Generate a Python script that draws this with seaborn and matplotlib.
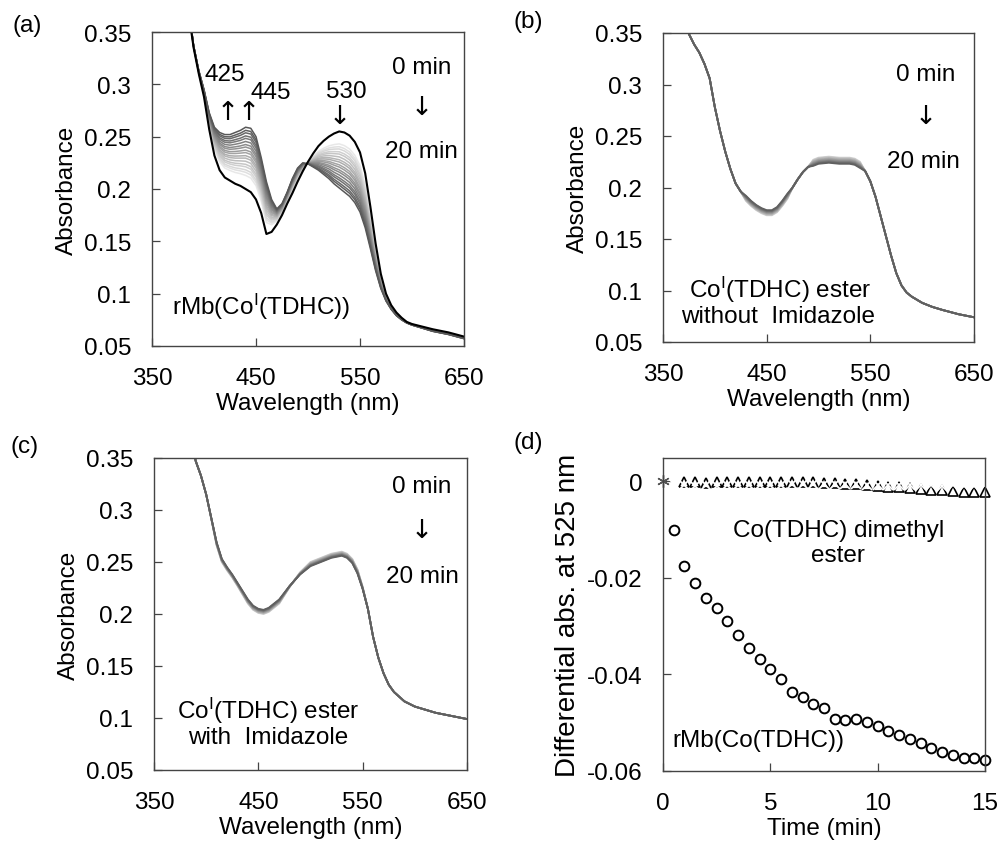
import numpy as np
import pandas as pd
import matplotlib
matplotlib.use("Agg")
import matplotlib.pyplot as plt
import seaborn as sns

sns.set_theme(style="white")
plt.rcParams['font.family'] = ['Liberation Sans', 'DejaVu Sans']
plt.rcParams['mathtext.fontset'] = 'custom'
plt.rcParams['mathtext.rm'] = 'Liberation Sans'
plt.rcParams['mathtext.it'] = 'Liberation Sans:italic'
plt.rcParams['mathtext.bf'] = 'Liberation Sans:bold'
for k in ['text.color', 'axes.labelcolor', 'xtick.color', 'ytick.color']:
    plt.rcParams[k] = 'black'

FS = 17.5
ARROW_FONT = dict(family=['DejaVu Sans'], fontsize=19)

# ---------------- data: panel (a) rMb(CoI(TDHC)) ----------------
wl_a = [360, 370, 380, 385, 390, 395, 400, 405, 410, 415,
        420, 425, 430, 435, 440, 445, 450, 455, 460, 465,
        470, 475, 480, 485, 490, 495, 500, 505, 510, 515,
        520, 525, 530, 535, 540, 545, 550, 555, 560, 565,
        570, 575, 580, 585, 590, 595, 600, 620, 635, 650]
abs_a_0min = [0.52, 0.46, 0.40, 0.37, 0.335, 0.31, 0.288, 0.257, 0.232, 0.218,
              0.211, 0.208, 0.205, 0.203, 0.200, 0.197, 0.190, 0.177, 0.157, 0.159,
              0.166, 0.175, 0.186, 0.196, 0.207, 0.217, 0.226, 0.234, 0.241, 0.246,
              0.250, 0.253, 0.255, 0.254, 0.251, 0.245, 0.235, 0.215, 0.183, 0.148,
              0.119, 0.100, 0.089, 0.082, 0.077, 0.073, 0.071, 0.066, 0.063, 0.059]
abs_a_20min = [0.52, 0.46, 0.40, 0.375, 0.337, 0.313, 0.295, 0.273, 0.259, 0.254,
               0.252, 0.252, 0.254, 0.256, 0.259, 0.258, 0.250, 0.230, 0.207, 0.190,
               0.181, 0.186, 0.197, 0.210, 0.220, 0.225, 0.224, 0.221, 0.218, 0.214,
               0.210, 0.205, 0.201, 0.197, 0.193, 0.187, 0.178, 0.163, 0.143, 0.122,
               0.105, 0.093, 0.085, 0.079, 0.075, 0.072, 0.070, 0.064, 0.061, 0.057]
# relative position of each later trace between the 0 min and 20 min spectra
progress_a = [0.22, 0.27, 0.31, 0.36, 0.40, 0.45, 0.50, 0.54, 0.59, 0.63, 0.68, 0.72,
              0.77, 0.82, 0.86, 0.91, 0.95, 1.0]

# ---------------- data: panel (b) ester without imidazole ----------------
wl_b = [350, 360, 370, 375, 380, 385, 390, 395, 400, 405,
        410, 415, 420, 425, 430, 435, 440, 445, 450, 455,
        460, 465, 470, 475, 480, 485, 490, 495, 500, 510,
        520, 530, 535, 540, 545, 550, 555, 560, 565, 570,
        575, 580, 585, 590, 600, 610, 620, 635, 650]
abs_b_0min = [0.55, 0.45, 0.37, 0.349, 0.339, 0.331, 0.320, 0.306, 0.278, 0.255,
              0.235, 0.218, 0.204, 0.196, 0.187, 0.182, 0.178, 0.175, 0.173, 0.173,
              0.176, 0.182, 0.189, 0.200, 0.208, 0.215, 0.220, 0.227, 0.229, 0.230,
              0.229, 0.229, 0.228, 0.225, 0.216, 0.206, 0.191, 0.172, 0.153, 0.134,
              0.117, 0.105, 0.098, 0.094, 0.088, 0.084, 0.081, 0.077, 0.074]
abs_b_20min = [0.55, 0.45, 0.37, 0.349, 0.339, 0.331, 0.320, 0.306, 0.278, 0.255,
               0.235, 0.218, 0.204, 0.196, 0.192, 0.187, 0.183, 0.180, 0.178, 0.178,
               0.181, 0.187, 0.194, 0.200, 0.208, 0.215, 0.220, 0.221, 0.223, 0.224,
               0.223, 0.223, 0.222, 0.219, 0.216, 0.206, 0.191, 0.172, 0.153, 0.134,
               0.117, 0.105, 0.098, 0.094, 0.088, 0.084, 0.081, 0.077, 0.074]
progress_b = [0.0, 0.11, 0.22, 0.33, 0.44, 0.56, 0.67, 0.78, 0.89, 1.0]

# ---------------- data: panel (c) ester with imidazole ----------------
wl_c = [350, 360, 370, 380, 385, 390, 395, 400, 405, 410, 415, 420, 425, 430, 440, 445,
        450, 455, 460, 470, 480, 490, 500, 510, 520, 530, 535, 540, 545, 550, 555, 560,
        565, 570, 575, 580, 590, 600, 620, 640, 650]
abs_c_0min = [0.60, 0.52, 0.45, 0.395, 0.37, 0.347, 0.333, 0.315, 0.291, 0.266, 0.250,
              0.242, 0.235, 0.227, 0.210, 0.204, 0.201, 0.200, 0.202, 0.210, 0.226, 0.240,
              0.250, 0.254, 0.258, 0.260, 0.258, 0.253, 0.243, 0.226, 0.205, 0.178, 0.158,
              0.143, 0.132, 0.125, 0.116, 0.111, 0.105, 0.101, 0.099]
abs_c_20min = [0.60, 0.52, 0.45, 0.395, 0.37, 0.347, 0.333, 0.315, 0.292, 0.269, 0.253,
               0.245, 0.238, 0.230, 0.214, 0.208, 0.205, 0.204, 0.206, 0.214, 0.227, 0.238,
               0.246, 0.250, 0.254, 0.256, 0.254, 0.249, 0.239, 0.224, 0.205, 0.178, 0.158,
               0.143, 0.132, 0.125, 0.116, 0.111, 0.105, 0.101, 0.099]
progress_c = [0.0, 0.11, 0.22, 0.33, 0.44, 0.56, 0.67, 0.78, 0.89, 1.0]

# ---------------- data: panel (d) kinetics at 525 nm ----------------
t_rmb = [0.5, 1.0, 1.5, 2.0, 2.5, 3.0, 3.5, 4.0, 4.5, 5.0, 5.5, 6.0, 6.5, 7.0, 7.5,
         8.0, 8.5, 9.0, 9.5, 10.0, 10.5, 11.0, 11.5, 12.0, 12.5, 13.0, 13.5, 14.0, 14.5, 15.0]
d_rmb = [-0.0101, -0.0175, -0.0210, -0.0241, -0.0263, -0.0290, -0.0319, -0.0345, -0.0369,
         -0.0388, -0.0409, -0.0437, -0.0447, -0.0461, -0.0470, -0.0493, -0.0495, -0.0493,
         -0.0499, -0.0507, -0.0518, -0.0526, -0.0534, -0.0543, -0.0552, -0.0561, -0.0567,
         -0.0574, -0.0573, -0.0578]
t_tri = [1.0, 1.5, 2.0, 2.5, 3.0, 3.5, 4.0, 4.5, 5.0, 5.5, 6.0, 6.5, 7.0, 7.5, 8.0,
         8.5, 9.0, 9.5, 10.0, 10.5, 11.0, 11.5, 12.0, 12.5, 13.0, 13.5, 14.0, 14.5, 15.0]
d_tri = [-0.0002, -0.0002, -0.0003, -0.0002, -0.0002, -0.0002, -0.0002, -0.0002, -0.0002,
         -0.0002, -0.0002, -0.0002, -0.0002, -0.0003, -0.0003, -0.0005, -0.0006, -0.0008,
         -0.0010, -0.0012, -0.0013, -0.0015, -0.0016, -0.0018, -0.0019, -0.0020, -0.0022,
         -0.0022, -0.0023]
t_x = t_rmb
d_x = [-0.0006, -0.0008, -0.0009, -0.0008, -0.0009, -0.0008, -0.0008, -0.0007, -0.0008,
       -0.0007, -0.0007, -0.0006, -0.0006, -0.0006, -0.0005, -0.0005, -0.0006, -0.0006,
       -0.0007, -0.0007, -0.0008, -0.0007, -0.0008, -0.0007, -0.0008, -0.0009, -0.0008,
       -0.0009, -0.0010, -0.0008]
t_star = [0.0]
d_star = [0.0]

wl_ticks = [350, 450, 550, 650]
abs_ticks = [0.05, 0.10, 0.15, 0.20, 0.25, 0.30, 0.35]
abs_ticklabels = ['0.05', '0.1', '0.15', '0.2', '0.25', '0.3', '0.35']
t_ticks = [0, 5, 10, 15]
d_ticks = [0.0, -0.02, -0.04, -0.06]
d_ticklabels = ['0', '-0.02', '-0.04', '-0.06']


def traces_frame(wl, first, last, progress):
    wl = np.asarray(wl, float)
    first = np.asarray(first, float)
    last = np.asarray(last, float)
    parts = []
    for i, p in enumerate(progress):
        parts.append(pd.DataFrame({'wl': wl, 'A': first + p * (last - first),
                                   'trace': f't{i:02d}'}))
    return pd.concat(parts, ignore_index=True)


def style(ax, xlim, ylim, xticks, xticklabels, yticks, yticklabels, xlabel, ylabel,
          ylabel_size=FS):
    ax.set_xlim(*xlim)
    ax.set_ylim(*ylim)
    ax.set_xticks(xticks)
    ax.set_xticklabels(xticklabels)
    ax.set_yticks(yticks)
    ax.set_yticklabels(yticklabels)
    ax.tick_params(direction='in', length=6, width=0.9, color='#444444',
                   labelcolor='black', labelsize=FS, pad=15,
                   bottom=True, left=True, top=False, right=False)
    for s in ax.spines.values():
        s.set_visible(True)
        s.set_color('#444444')
        s.set_linewidth(1.0)
    ax.set_xlabel(xlabel, fontsize=FS, labelpad=2)
    ax.set_ylabel(ylabel, fontsize=ylabel_size, labelpad=4)
    ax.grid(False)


W, H = 1001, 845
fig = plt.figure(figsize=(W / 100, H / 100), dpi=100)


def add_axes_px(left, top, right, bottom):
    return fig.add_axes([left / W, 1 - bottom / H, (right - left) / W, (bottom - top) / H])


ax_a = add_axes_px(152, 33, 464, 347)
ax_b = add_axes_px(663, 34, 974, 343)
ax_c = add_axes_px(154, 459, 467, 771)
ax_d = add_axes_px(663, 459, 985, 772)

# ---- (a)
df_a = traces_frame(wl_a, abs_a_0min, abs_a_20min, progress_a)
pal_a = sns.blend_palette(['#e8e8e8', '#585858'], len(progress_a))
sns.lineplot(data=df_a, x='wl', y='A', hue='trace', palette=pal_a, legend=False,
             estimator=None, sort=False, lw=1.1, ax=ax_a)
sns.lineplot(x=wl_a, y=abs_a_0min, color='black', lw=1.5, ax=ax_a)
style(ax_a, (350, 650), (0.05, 0.35), wl_ticks, [str(v) for v in wl_ticks],
      abs_ticks, abs_ticklabels, 'Wavelength (nm)', 'Absorbance')
ax_a.text(420, 0.310, '425', ha='center', va='center', fontsize=FS)
ax_a.text(464, 0.293, '445', ha='center', va='center', fontsize=FS)
ax_a.text(423, 0.274, '\u2191', ha='center', va='center', **ARROW_FONT)
ax_a.text(443, 0.274, '\u2191', ha='center', va='center', **ARROW_FONT)
ax_a.text(537, 0.294, '530', ha='center', va='center', fontsize=FS)
ax_a.text(530, 0.270, '\u2193', ha='center', va='center', **ARROW_FONT)
ax_a.text(609, 0.317, '0 min', ha='center', va='center', fontsize=FS)
ax_a.text(609, 0.278, '\u2193', ha='center', va='center', **ARROW_FONT)
ax_a.text(609, 0.236, '20 min', ha='center', va='center', fontsize=FS)
ax_a.text(369, 0.088, r'rMb(Co$^{\rm I}$(TDHC))', ha='left', va='center', fontsize=FS)

# ---- (b)
df_b = traces_frame(wl_b, abs_b_0min, abs_b_20min, progress_b)
pal_b = sns.blend_palette(['#d0d0d0', '#606060'], len(progress_b))
sns.lineplot(data=df_b, x='wl', y='A', hue='trace', palette=pal_b, legend=False,
             estimator=None, sort=False, lw=1.3, ax=ax_b)
style(ax_b, (350, 650), (0.05, 0.35), wl_ticks, [str(v) for v in wl_ticks],
      abs_ticks, abs_ticklabels, 'Wavelength (nm)', 'Absorbance')
ax_b.text(603, 0.310, '0 min', ha='center', va='center', fontsize=FS)
ax_b.text(603, 0.269, '\u2193', ha='center', va='center', **ARROW_FONT)
ax_b.text(601, 0.226, '20 min', ha='center', va='center', fontsize=FS)
ax_b.text(463, 0.1015, r'Co$^{\rm I}$(TDHC) ester', ha='center', va='center', fontsize=FS)
ax_b.text(461, 0.075, 'without  Imidazole', ha='center', va='center', fontsize=FS)

# ---- (c)
df_c = traces_frame(wl_c, abs_c_0min, abs_c_20min, progress_c)
pal_c = sns.blend_palette(['#d0d0d0', '#606060'], len(progress_c))
sns.lineplot(data=df_c, x='wl', y='A', hue='trace', palette=pal_c, legend=False,
             estimator=None, sort=False, lw=1.3, ax=ax_c)
style(ax_c, (350, 650), (0.05, 0.35), wl_ticks, [str(v) for v in wl_ticks],
      abs_ticks, abs_ticklabels, 'Wavelength (nm)', 'Absorbance')
ax_c.text(607, 0.323, '0 min', ha='center', va='center', fontsize=FS)
ax_c.text(607, 0.281, '\u2193', ha='center', va='center', **ARROW_FONT)
ax_c.text(607, 0.237, '20 min', ha='center', va='center', fontsize=FS)
ax_c.text(459, 0.108, r'Co$^{\rm I}$(TDHC) ester', ha='center', va='center', fontsize=FS)
ax_c.text(459, 0.082, 'with  Imidazole', ha='center', va='center', fontsize=FS)

# ---- (d)
sns.lineplot(x=t_star, y=d_star, ax=ax_d, marker=(6, 2, 0), linestyle='', color='#555555',
             markersize=9, markeredgewidth=1.0, markeredgecolor='#555555', clip_on=False)
sns.lineplot(x=t_tri, y=d_tri, ax=ax_d, marker='^', linestyle='', color='black',
             markersize=7.5, markeredgewidth=1.2, markerfacecolor='none',
             markeredgecolor='black', clip_on=False)
sns.lineplot(x=t_x, y=d_x, ax=ax_d, marker='x', linestyle='', color='#555555',
             markersize=7.5, markeredgewidth=1.3, clip_on=False)
sns.lineplot(x=t_rmb, y=d_rmb, ax=ax_d, marker='o', linestyle='', color='black',
             markersize=7, markeredgewidth=1.4, markerfacecolor='none',
             markeredgecolor='black', clip_on=False)
style(ax_d, (0, 15), (-0.06, 0.0048), t_ticks, [str(v) for v in t_ticks],
      d_ticks, d_ticklabels, 'Time (min)', 'Differential abs. at 525 nm', ylabel_size=20)
ax_d.text(8.16, -0.0101, 'Co(TDHC) dimethyl', ha='center', va='center', fontsize=FS)
ax_d.text(8.16, -0.0152, 'ester', ha='center', va='center', fontsize=FS)
ax_d.text(0.45, -0.0535, 'rMb(Co(TDHC))', ha='left', va='center', fontsize=FS)

# panel letters
for lab, xp, yp in [('(a)', 27, 26), ('(b)', 528, 22), ('(c)', 25, 447), ('(d)', 528, 443)]:
    fig.text(xp / W, 1 - yp / H, lab, ha='center', va='center', fontsize=FS)

fig.savefig('out.png', dpi=100)
